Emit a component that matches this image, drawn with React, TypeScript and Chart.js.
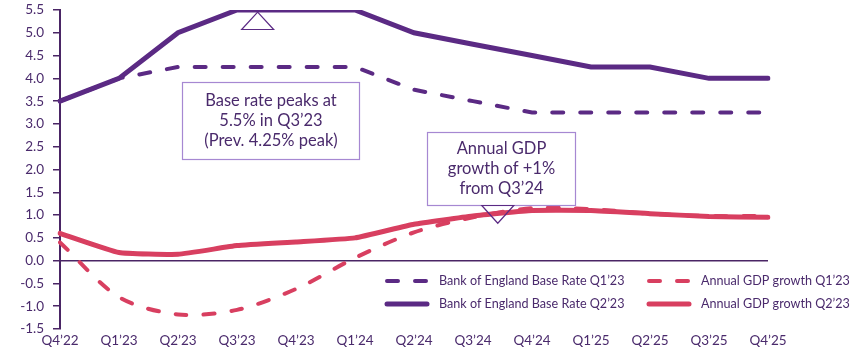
import React, { useEffect, useRef } from "react";
import { Chart, registerables } from "chart.js";

Chart.register(...registerables);

const quarters = ["Q4’22", "Q1’23", "Q2’23", "Q3’23", "Q4’23", "Q1’24", "Q2’24", "Q3’24", "Q4’24", "Q1’25", "Q2’25", "Q3’25", "Q4’25"];
const baseRateQ1 = [3.5, 4.0, 4.25, 4.25, 4.25, 4.25, 3.75, 3.5, 3.25, 3.25, 3.25, 3.25, 3.25];
const baseRateQ2 = [3.5, 4.0, 5.0, 5.5, 5.5, 5.5, 5.0, 4.75, 4.5, 4.25, 4.25, 4.0, 4.0];
const gdpQ1 = [0.4, -0.8, -1.18, -1.08, -0.62, 0.06, 0.62, 0.95, 1.15, 1.13, 1.03, 0.98, 0.98];
const gdpQ2 = [0.6, 0.18, 0.14, 0.33, 0.41, 0.5, 0.8, 0.98, 1.1, 1.1, 1.03, 0.97, 0.95];

const seriesNames = [
  "Bank of England Base Rate Q1’23",
  "Bank of England Base Rate Q2’23",
  "Annual GDP growth Q1’23",
  "Annual GDP growth Q2’23",
];

const annotationTexts = [
  ["Base rate peaks at", "5.5% in Q3’23", "(Prev. 4.25% peak)"],
  ["Annual GDP", "growth of +1%", "from Q3’24"],
];

const PURPLE = "#5b2a84";
const PINK = "#d83f60";
const TEXT = "#4a2a6c";
const AXIS = "#4a2565";
const BOX = "#a688d2";
const FONT = "Lato, 'Noto Sans', sans-serif";

const annotationPlugin = {
  id: "customAnnotations",
  afterDatasetsDraw(chart: any) {
    const { ctx, scales, chartArea } = chart;
    const x = scales.x;
    const y = scales.y;
    const px = (i: number) => x.getPixelForValue(i);
    const py = (v: number) => y.getPixelForValue(v);
    ctx.save();

    const boxes = [
      { x0: 2.07, x1: 5.07, y0: 3.92, y1: 2.23, lines: annotationTexts[0] },
      { x0: 6.22, x1: 8.73, y0: 2.82, y1: 1.23, lines: annotationTexts[1] },
    ];
    boxes.forEach((b) => {
      const l = Math.round(px(b.x0)) + 0.5;
      const r = Math.round(px(b.x1)) + 0.5;
      const t = Math.round(py(b.y0)) + 0.5;
      const bt = Math.round(py(b.y1)) + 0.5;
      ctx.fillStyle = "#ffffff";
      ctx.fillRect(l, t, r - l, bt - t);
      ctx.strokeStyle = BOX;
      ctx.lineWidth = 1.2;
      ctx.strokeRect(l, t, r - l, bt - t);
      ctx.fillStyle = TEXT;
      ctx.font = `16.5px ${FONT}`;
      ctx.textAlign = "center";
      ctx.textBaseline = "middle";
      const cx = (l + r) / 2;
      const cy = (t + bt) / 2;
      const lh = 20;
      b.lines.forEach((s, i) => {
        ctx.fillText(s, cx, cy + (i - (b.lines.length - 1) / 2) * lh);
      });
    });

    const tris = [
      { ax: 3.35, ay: 5.455, by: 5.09 },
      { ax: 7.42, ay: 0.82, by: 1.23 },
    ];
    tris.forEach((t) => {
      const axp = px(t.ax);
      const ayp = py(t.ay);
      const byp = Math.round(py(t.by)) + 0.5;
      ctx.beginPath();
      ctx.moveTo(axp, ayp);
      ctx.lineTo(axp - 16, byp);
      ctx.lineTo(axp + 16, byp);
      ctx.closePath();
      if (t.ay > t.by) {
        ctx.fillStyle = "#ffffff";
        ctx.fill();
      }
      ctx.strokeStyle = PURPLE;
      ctx.lineWidth = 1.2;
      ctx.stroke();
    });

    const items = [
      { col: 0, row: 0, color: PURPLE, dash: true },
      { col: 0, row: 1, color: PURPLE, dash: false },
      { col: 1, row: 0, color: PINK, dash: true },
      { col: 1, row: 1, color: PINK, dash: false },
    ];
    const colX = [chartArea.right - 383, chartArea.right - 121];
    const rowY = [chartArea.bottom - 48, chartArea.bottom - 25];
    items.forEach((it, i) => {
      const lx = colX[it.col];
      const ly = rowY[it.row];
      ctx.beginPath();
      ctx.strokeStyle = it.color;
      ctx.lineCap = "round";
      ctx.lineWidth = it.dash ? 4 : 5;
      ctx.setLineDash(it.dash ? [11, 17] : []);
      ctx.moveTo(lx + 2, ly);
      ctx.lineTo(lx + 42, ly);
      ctx.stroke();
      ctx.setLineDash([]);
      ctx.fillStyle = TEXT;
      ctx.font = `12.6px ${FONT}`;
      ctx.textAlign = "left";
      ctx.textBaseline = "middle";
      ctx.fillText(seriesNames[i], lx + 54, ly);
    });
    ctx.restore();
  },
};

export default function App() {
  const ref = useRef<HTMLCanvasElement>(null);
  useEffect(() => {
    document.body.style.margin = "0";
    const chart = new Chart(ref.current as HTMLCanvasElement, {
      type: "line",
      data: {
        labels: quarters,
        datasets: [
          {
            label: seriesNames[0],
            data: baseRateQ1,
            borderColor: PURPLE,
            borderWidth: 4,
            borderDash: [11, 17],
            borderCapStyle: "round",
            pointRadius: 0,
            tension: 0,
          },
          {
            label: seriesNames[1],
            data: baseRateQ2,
            borderColor: PURPLE,
            borderWidth: 5,
            borderCapStyle: "round",
            pointRadius: 0,
            tension: 0,
          },
          {
            label: seriesNames[2],
            data: gdpQ1,
            borderColor: PINK,
            borderWidth: 4,
            borderDash: [11, 17],
            borderCapStyle: "round",
            pointRadius: 0,
            tension: 0.3,
          },
          {
            label: seriesNames[3],
            data: gdpQ2,
            borderColor: PINK,
            borderWidth: 5,
            borderCapStyle: "round",
            pointRadius: 0,
            tension: 0.12,
          },
        ] as any,
      },
      options: {
        animation: false,
        responsive: true,
        maintainAspectRatio: false,
        layout: { padding: { top: 10, right: 87, left: 0, bottom: 0 } },
        plugins: { legend: { display: false }, tooltip: { enabled: false } },
        scales: {
          x: {
            type: "category",
            offset: false,
            grid: { display: false, drawTicks: false },
            border: { display: false },
            ticks: {
              color: TEXT,
              font: { family: FONT, size: 13.5 },
              padding: 4,
              maxRotation: 0,
              autoSkip: false,
            },
            afterFit: (s: any) => {
              s.height = 21;
            },
          },
          y: {
            min: -1.5,
            max: 5.5,
            ticks: {
              stepSize: 0.5,
              color: TEXT,
              font: { family: FONT, size: 13.5 },
              padding: 9,
              callback: (v: any) => Number(v).toFixed(1),
            },
            grid: {
              color: (c: any) => (c.tick && c.tick.value === 0 ? AXIS : "rgba(0,0,0,0)"),
              tickColor: AXIS,
              tickLength: 7,
              lineWidth: 1.5,
            },
            border: { display: true, color: AXIS, width: 2 },
            afterFit: (s: any) => {
              s.width = 60;
              s.paddingTop = 0;
              s.paddingBottom = 0;
            },
          },
        },
      } as any,
      plugins: [annotationPlugin],
    });
    return () => chart.destroy();
  }, []);
  return (
    <div style={{ position: "relative", width: 855, height: 350 }}>
      <canvas ref={ref} />
    </div>
  );
}
